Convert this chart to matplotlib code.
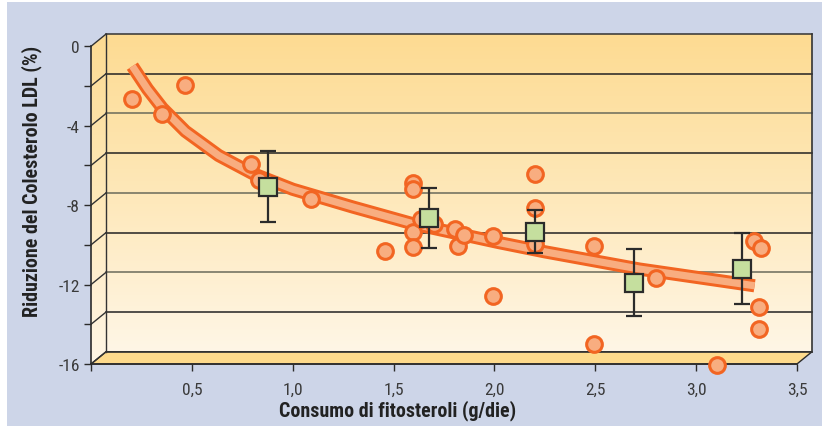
import numpy as np
import matplotlib
matplotlib.use('Agg')
import matplotlib.pyplot as plt
from matplotlib import font_manager
from matplotlib.patches import Rectangle, Polygon
from matplotlib.colors import LinearSegmentedColormap

# ---------------- data ----------------
scatter_x = [0.205, 0.352, 0.464, 0.794, 0.832, 1.09, 1.46, 1.594, 1.594, 1.594,
             1.594, 1.635, 1.70, 1.806, 1.822, 1.85, 1.995, 1.995, 2.20, 2.203,
             2.203, 2.496, 2.496, 2.803, 3.104, 3.288, 3.324, 3.313, 3.31]
scatter_y = [-2.67, -3.39, -1.95, -5.94, -6.74, -7.70, -10.30, -6.86, -7.20, -9.37,
             -10.10, -8.70, -8.95, -9.20, -10.05, -9.50, -9.57, -12.56, -6.42, -8.12,
             -9.96, -10.08, -15.00, -11.67, -16.05, -9.81, -10.15, -13.12, -14.24]

group_x = [0.88, 1.677, 2.20, 2.692, 3.228]
group_y = [-7.08, -8.66, -9.33, -11.90, -11.22]
group_hi = [-5.25, -7.13, -8.22, -10.23, -9.41]
group_lo = [-8.86, -10.16, -10.43, -13.59, -13.00]

trend_x = [0.205, 0.28, 0.354, 0.468, 0.633, 0.80, 1.00, 1.30, 1.60, 2.02, 2.25, 2.72, 3.29]
trend_y = [-1.00, -2.15, -3.12, -4.28, -5.50, -6.40, -7.20, -8.10, -8.95, -9.88, -10.35, -11.22, -12.06]

x_ticks = [0, 0.5, 1.0, 1.5, 2.0, 2.5, 3.0, 3.5]
x_tick_labels = ['', '0,5', '1,0', '1,5', '2,0', '2,5', '3,0', '3,5']
y_ticks = [0, -2, -4, -6, -8, -10, -12, -14, -16]
y_tick_labels = ['0', '', '-4', '', '-8', '', '-12', '', '-16']

x_label = 'Consumo di fitosteroli (g/die)'
y_label = 'Riduzione del Colesterolo LDL (%)'

# ---------------- fonts ----------------
available = {f.name for f in font_manager.fontManager.ttflist}
FONT = None
for cand in ['Liberation Sans Narrow', 'DejaVu Sans Condensed', 'Roboto Condensed',
             'Open Sans Condensed']:
    if cand in available:
        FONT = [cand, 'DejaVu Sans']
        LABEL_SIZE, TICK_SIZE = 14.4, 12.5
        break
if FONT is None:
    FONT = ['DejaVu Sans']
    LABEL_SIZE, TICK_SIZE = 10.5, 10

# ---------------- style ----------------
BG = '#cdd5e8'
ORANGE = '#f26522'
ORANGE_FILL = '#f8ad80'
GREEN = '#c5df9e'
DARK = '#2b2b2b'
TXT = '#3a3a3a'

fig = plt.figure(figsize=(8.22, 4.27), dpi=100, facecolor='white')
fig.patches.append(Rectangle((7 / 822, 0), 1 - 7 / 822, 1 - 3 / 427,
                             transform=fig.transFigure, facecolor=BG,
                             edgecolor='none', zorder=-10))

XMAX, YMIN, YMAX = 3.6, -16, 0.7
ax = fig.add_axes([91 / 822, (427 - 365) / 427, (3.6 * 201.7) / 822, (365 - 33.4) / 427])
ax.patch.set_visible(False)

DX, DY = 0.075, 0.62   # 3D depth offset
bx0, bx1 = 0.0 + DX, 3.5 + DX
by0, by1 = -16 + DY, 0 + DY

cmap = LinearSegmentedColormap.from_list('wall', ['#fff6e6', '#fee8b9', '#fddb92'])
grad = np.linspace(0, 1, 256).reshape(-1, 1)

# back wall
ax.imshow(grad, extent=[bx0, bx1, by0, by1], origin='lower', aspect='auto',
          cmap=cmap, zorder=0, interpolation='bilinear')
# side wall
side = Polygon([(0, 0), (bx0, by1), (bx0, by0), (0, -16)], closed=True,
               facecolor='none', edgecolor='none')
ax.add_patch(side)
im2 = ax.imshow(grad, extent=[0, bx0, -16, by1], origin='lower', aspect='auto',
                cmap=cmap, zorder=0, interpolation='bilinear')
im2.set_clip_path(side)
# floor
ax.add_patch(Polygon([(0, -16), (3.5, -16), (bx1, by0), (bx0, by0)], closed=True,
                     facecolor='#fdda8c', edgecolor=DARK, lw=1.0, zorder=1,
                     clip_on=False))

# grid lines on the back wall + depth lines on the side wall
for i, yv in enumerate(y_ticks):
    col = '#222222' if i % 2 == 1 else '#6a6a5a'
    if yv in (0, -16):
        col = '#333333'
    ax.plot([bx0, bx1], [yv + DY, yv + DY], color=col, lw=1.1, zorder=1, clip_on=False)
    ax.plot([0, bx0], [yv, yv + DY], color='#333333', lw=1.0, zorder=1, clip_on=False)
ax.plot([bx0, bx0], [by0, by1], color='#333333', lw=1.0, zorder=1, clip_on=False)
ax.plot([bx1, bx1], [by0, by1], color='#333333', lw=1.2, zorder=1, clip_on=False)

# trend band
ax.plot(trend_x, trend_y, color=ORANGE, lw=9.5, solid_capstyle='butt',
        solid_joinstyle='round', zorder=3)
ax.plot(trend_x, trend_y, color=ORANGE_FILL, lw=5.2, solid_capstyle='butt',
        solid_joinstyle='round', zorder=3)

# scatter points
ax.plot(scatter_x, scatter_y, 'o', ms=11.3, mfc=ORANGE_FILL, mec=ORANGE, mew=2.2,
        zorder=4, clip_on=False)

# group means with error bars
gy = np.array(group_y)
yerr = [gy - np.array(group_lo), np.array(group_hi) - gy]
ax.errorbar(group_x, group_y, yerr=yerr, fmt='none', ecolor=DARK, elinewidth=1.6,
            capsize=6, capthick=1.6, zorder=5)
ax.plot(group_x, group_y, 's', ms=12.5, mfc=GREEN, mec=DARK, mew=1.6, zorder=6)

ax.set_xlim(0, XMAX)
ax.set_ylim(YMIN, YMAX)

for s in ('top', 'right'):
    ax.spines[s].set_visible(False)
ax.spines['left'].set_bounds(-16, 0)
ax.spines['bottom'].set_bounds(0, 3.5)
for s in ('left', 'bottom'):
    ax.spines[s].set_color(DARK)
    ax.spines[s].set_linewidth(1.2)
    ax.spines[s].set_zorder(2)

ax.set_xticks(x_ticks)
ax.set_xticklabels(x_tick_labels)
ax.set_yticks(y_ticks)
ax.set_yticklabels(y_tick_labels)
ax.tick_params(axis='both', direction='out', length=5, width=1.0, color=DARK,
               labelcolor=TXT, labelsize=TICK_SIZE)
ax.tick_params(axis='x', pad=8)
ax.tick_params(axis='y', pad=3)
for lab in ax.get_xticklabels() + ax.get_yticklabels():
    lab.set_family(FONT)

fig.text(398 / 822, 1 - 411 / 427, x_label, ha='center', va='center',
         fontsize=LABEL_SIZE, fontweight='bold', color='#222222', family=FONT)
fig.text(32 / 822, 1 - 181 / 427, y_label, ha='center', va='center', rotation=90,
         fontsize=LABEL_SIZE, fontweight='bold', color='#222222', family=FONT)

fig.savefig('out.png', dpi=100, facecolor=fig.get_facecolor())
